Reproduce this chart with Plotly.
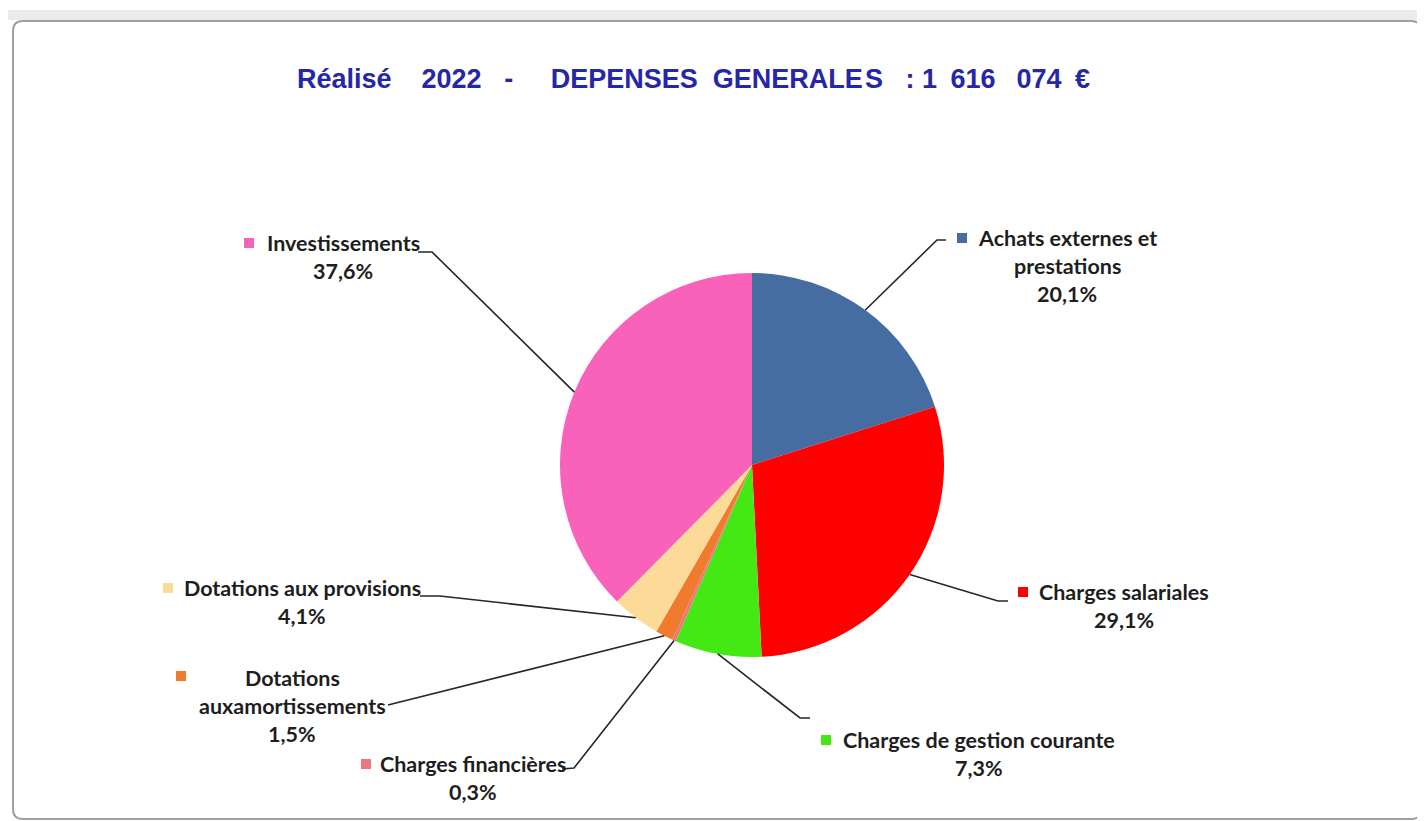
import math
import plotly.graph_objects as go

W, H = 1425, 821
OFF = 8  # page body margin

# ---------------- data ----------------
categories = [
    "Achats externes et prestations",
    "Charges salariales",
    "Charges de gestion courante",
    "Charges financières",
    "Dotations auxamortissements",
    "Dotations aux provisions",
    "Investissements",
]
shares = [20.1, 29.1, 7.3, 0.3, 1.5, 4.1, 37.6]
colors = ["#466DA2", "#FF0000", "#44E814", "#E8797E", "#F07A2E", "#FCDB98", "#F862BA"]
NB = "\u00a0"
EN = "\u2002"
title_text = ("Réalisé" + NB * 4 + "2022" + NB * 3 + "-" + NB * 5 + "DEPENSES" + NB * 2
              + "GENERALE\u200aS" + NB * 3 + ":" + NB + "1" + EN + "616" + EN + NB + "074" + EN + "€")

# ---------------- layout (pixel positions in the page) ----------------
CX, CY, R = 752, 465, 192
label_lines = {
    "Achats externes et prestations": ["Achats externes et", "prestations"],
    "Dotations auxamortissements": ["Dotations", "auxamortissements"],
}
# text centre x, first line y, square x, square y
label_pos = {
    "Achats externes et prestations": (1067, 238, 962, 238),
    "Charges salariales": (1124, 592, 1023, 592),
    "Charges de gestion courante": (979, 740, 826, 740),
    "Charges financières": (473, 764, 366, 764),
    "Dotations auxamortissements": (292, 678, 181, 676),
    "Dotations aux provisions": (302, 588, 168, 588),
    "Investissements": (343, 243, 249, 243),
}
leader_tail = {
    "Achats externes et prestations": [(937, 240), (946, 240)],
    "Charges salariales": [(998, 601), (1008, 601)],
    "Charges de gestion courante": [(800, 718), (810, 718)],
    "Charges financières": [(574, 768), (562, 769)],
    "Dotations auxamortissements": [(388, 705)],
    "Dotations aux provisions": [(440, 596), (420, 596)],
    "Investissements": [(432, 252), (418, 252)],
}
LINE_H = 28
FW, FH = W - OFF, H - OFF


def px(x):
    return (x - OFF) / FW


def py(y):
    return 1 - (y - OFF) / FH


fig = go.Figure()
fig.add_trace(go.Pie(
    labels=categories,
    values=shares,
    marker=dict(colors=colors, line=dict(width=0)),
    sort=False,
    direction="clockwise",
    rotation=0,
    textinfo="none",
    hoverinfo="label+percent",
    showlegend=False,
    domain=dict(x=[px(CX - R), px(CX + R)], y=[py(CY + R), py(CY - R)]),
))

shapes = []
annotations = []

# frame
shapes.append(dict(type="rect", xref="paper", yref="paper", x0=px(6), x1=px(1423), y0=py(20), y1=py(10),
                   fillcolor="#EBEBEB", line=dict(width=0), layer="below"))
x0, x1, y0, y1, r = 13, 1421, 21, 819, 10
path = (f"M {px(x0+r)},{py(y0)} L {px(x1-r)},{py(y0)} Q {px(x1)},{py(y0)} {px(x1)},{py(y0+r)} "
        f"L {px(x1)},{py(y1-r)} Q {px(x1)},{py(y1)} {px(x1-r)},{py(y1)} "
        f"L {px(x0+r)},{py(y1)} Q {px(x0)},{py(y1)} {px(x0)},{py(y1-r)} "
        f"L {px(x0)},{py(y0+r)} Q {px(x0)},{py(y0)} {px(x0+r)},{py(y0)} Z")
shapes.append(dict(type="path", xref="paper", yref="paper", path=path,
                   fillcolor="white", line=dict(color="#A0A0A0", width=2), layer="below"))

total = sum(shares)
cum = 0.0
for cat, v, col in zip(categories, shares, colors):
    mid = (cum + v / 2) / total * 2 * math.pi
    cum += v
    sx = CX + R * math.sin(mid)
    sy = CY - R * math.cos(mid)
    pts = [(sx, sy)] + leader_tail[cat]
    d = "M " + " L ".join(f"{px(a)},{py(b)}" for a, b in pts)
    shapes.append(dict(type="path", xref="paper", yref="paper", path=d,
                       line=dict(color="#262626", width=1.6)))
    tx, ty, qx, qy = label_pos[cat]
    shapes.append(dict(type="rect", xref="paper", yref="paper",
                       x0=px(qx - 5), x1=px(qx + 5), y0=py(qy + 5), y1=py(qy - 5),
                       fillcolor=col, line=dict(width=0)))
    lines = label_lines.get(cat, [cat]) + [f"{v:.1f}".replace(".", ",") + "%"]
    for i, t in enumerate(lines):
        annotations.append(dict(x=px(tx), y=py(ty + i * LINE_H), xref="paper", yref="paper",
                                text=t, showarrow=False, xanchor="center", yanchor="middle",
                                font=dict(family="Lato", size=21.5, color="#1E1E1E", weight="bold")))

annotations.append(dict(x=px(693), y=py(79), xref="paper", yref="paper", text=title_text,
                        showarrow=False, xanchor="center", yanchor="middle",
                        font=dict(family="Liberation Sans", size=27,
                                  color="#2626A8", weight="bold")))

fig.update_layout(
    width=FW, height=FH,
    margin=dict(l=0, r=0, t=0, b=0),
    paper_bgcolor="white",
    plot_bgcolor="white",
    shapes=shapes,
    annotations=annotations,
)

fig.write_html("out.html")
